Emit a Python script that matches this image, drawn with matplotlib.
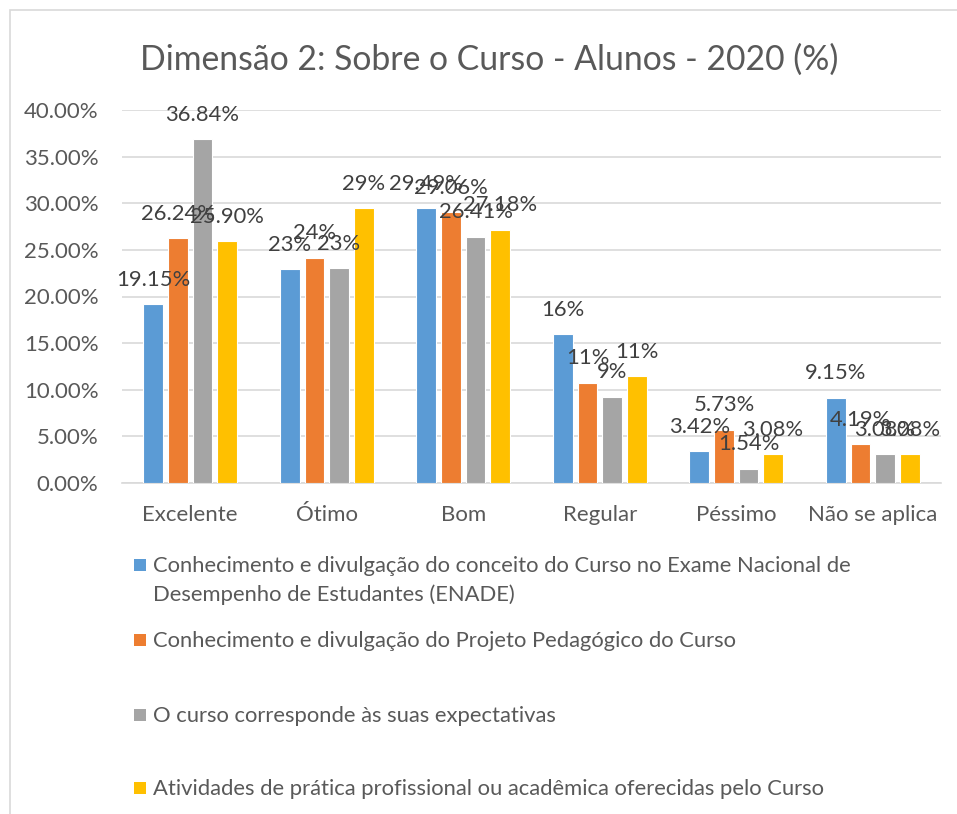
import matplotlib.pyplot as plt
import numpy as np
from matplotlib.patches import Rectangle

# Data
categories = ['Excelente', 'Ótimo', 'Bom', 'Regular', 'Péssimo', 'Não se aplica']
series_names = [
    'Conhecimento e divulgação do conceito do Curso no Exame Nacional de\nDesempenho de Estudantes (ENADE)',
    'Conhecimento e divulgação do Projeto Pedagógico do Curso',
    'O curso corresponde às suas expectativas',
    'Atividades de prática profissional ou acadêmica oferecidas pelo Curso',
]
enade = [19.15, 22.92, 29.49, 15.98, 3.42, 9.15]
projeto = [26.24, 24.16, 29.06, 10.76, 5.73, 4.19]
expectativas = [36.84, 23.02, 26.41, 9.25, 1.54, 3.08]
atividades = [25.90, 29.46, 27.18, 11.47, 3.08, 3.08]
enade_lbl = ['19.15%', '23%', '29.49%', '16%', '3.42%', '9.15%']
projeto_lbl = ['26.24%', '24%', '29.06%', '11%', '5.73%', '4.19%']
expectativas_lbl = ['36.84%', '23%', '26.41%', '9%', '1.54%', '3.08%']
atividades_lbl = ['25.90%', '29%', '27.18%', '11%', '3.08%', '3.08%']
yticks = [0, 5, 10, 15, 20, 25, 30, 35, 40]

colors = ['#5B9BD5', '#ED7D31', '#A5A5A5', '#FFC000']
text_col = '#595959'
label_col = '#404040'
plt.rcParams['font.family'] = ['Lato', 'DejaVu Sans']

W, H = 957, 814
fig = plt.figure(figsize=(W / 100, H / 100), dpi=100)

# chart border
fig.patches.append(Rectangle((10 / W, -0.1), 1.2, 1 - 10 / H + 0.1, transform=fig.transFigure,
                             fill=False, edgecolor='#D9D9D9', linewidth=1.2))

ax = fig.add_axes([122 / W, 1 - 483 / H, (941 - 122) / W, (483 - 110) / H])

x = np.arange(len(categories))
step = 0.18
width = 0.146
all_vals = [enade, projeto, expectativas, atividades]
all_lbls = [enade_lbl, projeto_lbl, expectativas_lbl, atividades_lbl]
for i, (vals, lbls) in enumerate(zip(all_vals, all_lbls)):
    pos = x + (i - 1.5) * step
    ax.bar(pos, vals, width, color=colors[i], edgecolor='white', linewidth=0.8, zorder=3)
    for px, v, t in zip(pos, vals, lbls):
        ax.annotate(t, (px, v), xytext=(0, 17.5), textcoords='offset points',
                    ha='center', va='center', fontsize=15.8, color=label_col, zorder=4)

ax.set_xlim(-0.5, len(categories) - 0.5)
ax.set_ylim(0, 40)
ax.set_yticks(yticks)
ax.set_yticklabels(['%.2f%%' % t for t in yticks])
ax.set_xticks(x)
ax.set_xticklabels(categories)
ax.tick_params(axis='both', length=0, labelsize=16, colors=text_col)
ax.tick_params(axis='y', pad=17)
ax.tick_params(axis='x', pad=16)
ax.grid(axis='y', color='#D9D9D9', linewidth=1.2, zorder=0)
for s in ['top', 'right', 'left']:
    ax.spines[s].set_visible(False)
ax.spines['bottom'].set_color('#D9D9D9')
ax.spines['bottom'].set_linewidth(1.2)

fig.text(489 / W, 1 - 60 / H, 'Dimensão 2: Sobre o Curso - Alunos - 2020 (%)',
         ha='center', va='center', fontsize=24.3, color=text_col)

# legend
leg_y = [565, 640, 715, 788]
for name, c, yy in zip(series_names, colors, leg_y):
    fig.patches.append(Rectangle((134 / W, 1 - (yy + 6) / H), 12 / W, 12 / H,
                                 transform=fig.transFigure, facecolor=c, edgecolor='none'))
    fig.text(153 / W, 1 - (yy - 9) / H, name, ha='left', va='top', fontsize=15.8,
             color=text_col, linespacing=1.5)

fig.savefig('out.png', dpi=100)
